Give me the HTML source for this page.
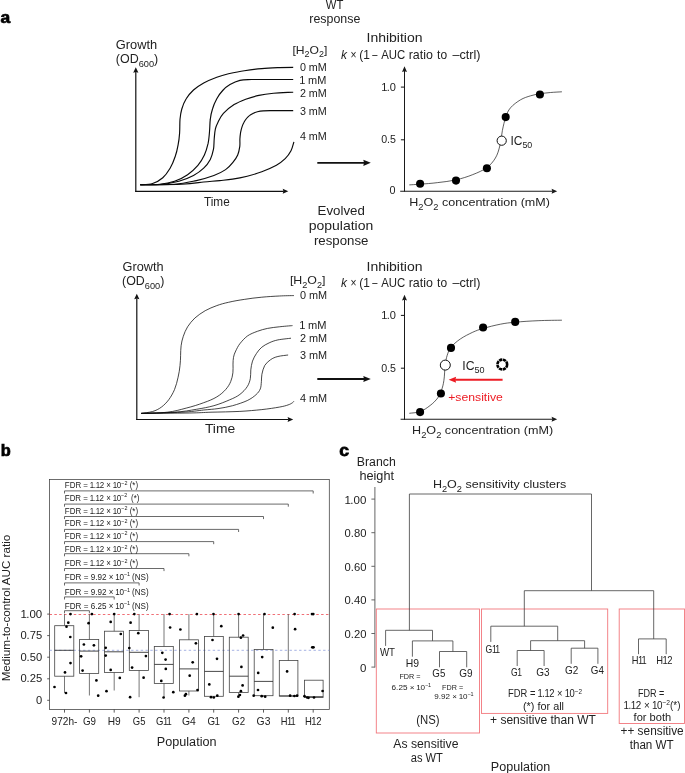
<!DOCTYPE html>
<html lang="en">
<head>
<meta charset="utf-8">
<title>Figure: H2O2 sensitivity of evolved populations</title>
<style>
html,body{margin:0;padding:0;background:#fff;}
body{width:685px;height:773px;overflow:hidden;}
svg{display:block;font-family:"Liberation Sans",Arial,Helvetica,sans-serif;fill:#222;}
svg line,svg path,svg rect,svg circle{shape-rendering:geometricPrecision;}
</style>
</head>
<body>
<svg width="685" height="773" viewBox="0 0 685 773">
<rect x="0" y="0" width="685" height="773" fill="#fff"/>
<text x="0.6" y="23.0" font-size="16.6" textLength="9.7" lengthAdjust="spacingAndGlyphs" fill="#000" font-weight="bold" stroke="#000" stroke-width="0.7">a</text>
<text x="334.6" y="9.0" font-size="12.4" text-anchor="middle" textLength="17.5" lengthAdjust="spacingAndGlyphs">WT</text>
<text x="334.8" y="23.0" font-size="12.4" text-anchor="middle" textLength="51.0" lengthAdjust="spacingAndGlyphs">response</text>
<text x="115.8" y="49.1" font-size="12.4" textLength="41.4" lengthAdjust="spacingAndGlyphs">Growth</text>
<text x="115.8" y="63.3" font-size="12.4" textLength="42.4" lengthAdjust="spacingAndGlyphs"><tspan>(OD</tspan><tspan dy="3.72" font-size="9.18">600</tspan><tspan dy="-3.72">)</tspan></text>
<line x1="135.8" y1="71.7" x2="135.8" y2="191.9" stroke="#111" stroke-width="1.2" />
<path d="M135.8,67.2 L138.4,72.7 L135.8,72.0 L133.2,72.7Z" fill="#111"/>
<line x1="135.2" y1="191.3" x2="283.7" y2="191.3" stroke="#111" stroke-width="1.2" />
<path d="M288.3,191.3 L282.7,188.8 L283.4,191.3 L282.7,193.8Z" fill="#111"/>
<text x="204.0" y="205.6" font-size="12" textLength="25.7" lengthAdjust="spacingAndGlyphs">Time</text>
<text x="292.4" y="53.6" font-size="11.5" textLength="34.9" lengthAdjust="spacingAndGlyphs"><tspan>[H</tspan><tspan dy="3.45" font-size="8.51">2</tspan><tspan dy="-3.45">O</tspan><tspan dy="3.45" font-size="8.51">2</tspan><tspan dy="-3.45">]</tspan></text>
<text x="299.9" y="71.0" font-size="10.1" textLength="26.9" lengthAdjust="spacingAndGlyphs">0 mM</text>
<text x="299.9" y="84.3" font-size="10.1" textLength="26.9" lengthAdjust="spacingAndGlyphs" dx="-0.51 -0.51 0 0">1 mM</text>
<text x="299.9" y="97.0" font-size="10.1" textLength="26.9" lengthAdjust="spacingAndGlyphs">2 mM</text>
<text x="299.9" y="114.7" font-size="10.1" textLength="26.9" lengthAdjust="spacingAndGlyphs">3 mM</text>
<text x="299.9" y="140.3" font-size="10.1" textLength="26.9" lengthAdjust="spacingAndGlyphs">4 mM</text>
<path d="M140.2,184.7C142.3,184.5 148.8,184.7 152.6,183.5C156.4,182.3 159.9,180.2 162.8,177.7C165.7,175.1 168.0,171.7 170.1,168.2C172.2,164.6 173.9,160.4 175.2,156.5C176.6,152.6 177.4,148.7 178.1,144.8C178.9,140.9 179.3,137.4 179.6,133.1C179.9,128.9 179.7,123.3 180.0,119.2C180.4,115.2 180.8,112.4 181.8,109.0C182.8,105.6 184.2,102.0 186.2,98.8C188.1,95.6 190.6,92.7 193.5,90.0C196.4,87.4 199.8,85.2 203.7,83.0C207.6,80.9 212.7,78.7 216.8,77.2C221.0,75.7 223.9,74.9 228.5,73.8C233.1,72.8 238.7,71.6 244.3,70.8C249.8,69.9 256.0,69.1 261.8,68.6C267.6,68.0 274.1,67.8 279.3,67.6C284.5,67.3 290.9,67.3 293.2,67.3" stroke="#0a0a0a" stroke-width="1.15" fill="none" />
<path d="M140.2,184.7C143.5,184.6 154.2,184.8 159.9,184.2C165.6,183.7 169.9,182.9 174.5,181.3C179.1,179.7 183.7,177.4 187.6,174.7C191.5,172.1 195.1,168.5 197.9,165.3C200.7,162.0 202.7,158.7 204.4,155.0C206.1,151.4 207.2,147.3 208.1,143.4C208.9,139.5 209.2,135.7 209.5,131.7C209.9,127.7 209.8,123.0 210.3,119.2C210.7,115.5 211.4,112.4 212.5,109.0C213.5,105.6 215.1,101.9 216.8,98.8C218.5,95.7 220.5,92.8 222.7,90.5C224.9,88.1 227.1,86.3 230.0,84.6C232.8,83.0 236.3,81.3 239.9,80.4C243.5,79.5 245.5,79.7 251.6,79.5C257.7,79.4 269.5,79.5 276.4,79.5C283.3,79.5 290.4,79.5 293.2,79.5" stroke="#0a0a0a" stroke-width="1.15" fill="none" />
<path d="M140.2,184.7C143.5,184.6 153.5,185.1 159.9,184.5C166.3,184.0 173.3,182.8 178.9,181.3C184.5,179.8 189.3,177.7 193.5,175.5C197.6,173.3 200.9,170.9 203.7,168.2C206.5,165.5 208.6,162.6 210.3,159.4C211.9,156.3 212.8,152.6 213.5,149.2C214.1,145.8 213.9,142.4 214.2,139.0C214.5,135.6 214.7,131.6 215.4,128.8C216.0,126.0 216.7,124.7 218.0,122.2C219.3,119.6 220.7,116.3 223.4,113.4C226.1,110.5 230.3,107.0 234.1,104.6C237.8,102.3 241.6,100.8 245.7,99.2C249.9,97.7 254.3,96.4 258.9,95.4C263.5,94.4 267.8,93.8 273.5,93.2C279.2,92.7 289.9,92.4 293.2,92.2" stroke="#0a0a0a" stroke-width="1.15" fill="none" />
<path d="M140.2,184.7C145.9,184.6 165.1,184.9 174.5,184.2C183.9,183.6 189.8,182.0 196.4,180.6C203.0,179.1 209.0,177.3 213.9,175.5C218.8,173.6 222.4,171.8 225.6,169.6C228.8,167.4 230.9,164.8 232.9,162.3C234.9,159.9 236.6,157.7 237.7,155.0C238.9,152.4 239.4,149.0 239.8,146.3C240.1,143.6 239.8,141.3 239.9,139.0C240.0,136.7 240.3,134.5 240.6,132.4C241.0,130.3 241.5,128.3 242.1,126.6C242.6,124.9 243.3,123.5 244.0,122.2C244.7,120.8 245.6,119.6 246.5,118.5C247.4,117.4 248.3,116.4 249.4,115.6C250.5,114.7 251.7,114.0 253.0,113.4C254.4,112.8 255.7,112.2 257.4,111.8C259.1,111.4 260.8,111.1 263.3,110.9C265.7,110.7 267.0,110.7 272.0,110.6C277.0,110.6 289.7,110.6 293.2,110.6" stroke="#0a0a0a" stroke-width="1.15" fill="none" />
<path d="M140.2,184.7C147.1,184.6 171.2,184.7 181.8,184.2C192.4,183.8 197.4,182.7 203.7,182.0C210.0,181.4 214.9,181.1 219.8,180.6C224.6,180.1 228.0,179.9 232.6,179.1C237.2,178.4 242.3,177.4 247.2,176.2C252.1,175.0 256.9,173.6 261.8,171.8C266.7,170.0 272.5,167.4 276.4,165.3C280.3,163.1 282.7,161.1 285.2,158.7C287.6,156.3 289.5,153.5 291.0,150.7C292.5,147.9 293.4,143.4 293.9,141.9" stroke="#0a0a0a" stroke-width="1.15" fill="none" />
<line x1="317.3" y1="162.8" x2="364.3" y2="162.8" stroke="#111" stroke-width="1.8" />
<path d="M370.8,162.8 L363.3,159.7 L364.0,162.8 L363.3,165.9Z" fill="#111"/>
<line x1="317.3" y1="379.0" x2="364.3" y2="379.0" stroke="#111" stroke-width="1.8" />
<path d="M370.8,379.0 L363.3,375.9 L364.0,379.0 L363.3,382.1Z" fill="#111"/>
<text x="366.5" y="42.2" font-size="13.4" textLength="56.0" lengthAdjust="spacingAndGlyphs">Inhibition</text>
<text y="58.8" font-size="11.9"><tspan x="341.1" font-style="italic">k</tspan> <tspan x="350.4" textLength="6.0" lengthAdjust="spacingAndGlyphs">×</tspan> <tspan x="359.2">(1</tspan> <tspan x="372.3" textLength="5.2" lengthAdjust="spacingAndGlyphs">–</tspan> <tspan x="381.2" textLength="24.0" lengthAdjust="spacingAndGlyphs">AUC</tspan> <tspan x="408.7" textLength="24.2" lengthAdjust="spacingAndGlyphs">ratio</tspan> <tspan x="437.1" textLength="10.0" lengthAdjust="spacingAndGlyphs">to</tspan> <tspan x="452.4" textLength="28.2" lengthAdjust="spacingAndGlyphs">–ctrl)</tspan></text>
<line x1="404.5" y1="70.9" x2="404.5" y2="191.6" stroke="#1a1a1a" stroke-width="1.05" />
<path d="M404.5,66.3 L407.0,71.9 L404.5,71.2 L402.0,71.9Z" fill="#1a1a1a"/>
<line x1="400.2" y1="191.2" x2="552.6" y2="191.2" stroke="#1a1a1a" stroke-width="1.05" />
<path d="M557.2,191.2 L551.6,188.7 L552.3,191.2 L551.6,193.7Z" fill="#1a1a1a"/>
<line x1="400.9" y1="87.1" x2="404.5" y2="87.1" stroke="#111" stroke-width="1" />
<text x="396.0" y="90.5" font-size="10" text-anchor="end" textLength="14.8" lengthAdjust="spacingAndGlyphs" dx="0 -0.5 0">1.0</text>
<line x1="400.9" y1="139.8" x2="404.5" y2="139.8" stroke="#111" stroke-width="1" />
<text x="396.0" y="143.2" font-size="10" text-anchor="end" textLength="14.8" lengthAdjust="spacingAndGlyphs">0.5</text>
<text x="395.6" y="194.4" font-size="10.4" text-anchor="end" textLength="6.0" lengthAdjust="spacingAndGlyphs">0</text>
<path d="M409.3,184.9C411.1,184.8 415.4,184.5 420.1,184.2C424.8,183.8 431.7,183.4 437.7,182.6C443.6,181.9 450.1,181.2 456.0,179.9C461.8,178.5 467.7,176.7 472.8,174.6C478.0,172.6 483.1,170.3 486.9,167.6C490.6,164.8 493.2,161.7 495.4,158.0C497.6,154.4 498.8,150.1 499.9,145.5C501.1,140.9 501.5,135.2 502.4,130.4C503.4,125.7 504.4,120.9 505.7,117.1C507.0,113.4 508.0,110.7 510.5,107.8C512.9,104.9 517.2,101.8 520.5,99.8C523.9,97.8 527.3,96.8 530.6,95.8C533.8,94.8 536.5,94.3 539.8,93.8C543.2,93.2 547.0,92.9 550.6,92.5C554.3,92.2 560.1,91.9 561.9,91.8" stroke="#1a1a1a" stroke-width="0.7" fill="none" />
<circle cx="420.1" cy="183.8" r="4.05" fill="#000" stroke="none" stroke-width="0" />
<circle cx="456.0" cy="180.6" r="4.05" fill="#000" stroke="none" stroke-width="0" />
<circle cx="486.9" cy="168.3" r="4.05" fill="#000" stroke="none" stroke-width="0" />
<circle cx="505.7" cy="117.1" r="4.05" fill="#000" stroke="none" stroke-width="0" />
<circle cx="539.9" cy="94.5" r="4.05" fill="#000" stroke="none" stroke-width="0" />
<circle cx="501.7" cy="140.7" r="4.6" fill="#fff" stroke="#111" stroke-width="1.0" />
<text x="510.5" y="144.7" font-size="12.2" textLength="21.8" lengthAdjust="spacingAndGlyphs"><tspan>IC</tspan><tspan dy="3.66" font-size="9.03">50</tspan></text>
<text x="409.3" y="206.4" font-size="11.6" textLength="140.6" lengthAdjust="spacingAndGlyphs"><tspan>H</tspan><tspan dy="3.48" font-size="8.58">2</tspan><tspan dy="-3.48">O</tspan><tspan dy="3.48" font-size="8.58">2</tspan><tspan dy="-3.48"> concentration (mM)</tspan></text>
<text x="341.2" y="214.8" font-size="13.4" text-anchor="middle" textLength="47.2" lengthAdjust="spacingAndGlyphs">Evolved</text>
<text x="341.0" y="229.7" font-size="13.4" text-anchor="middle" textLength="64.6" lengthAdjust="spacingAndGlyphs">population</text>
<text x="341.2" y="245.2" font-size="13.4" text-anchor="middle" textLength="54.5" lengthAdjust="spacingAndGlyphs">response</text>
<text x="122.6" y="270.9" font-size="12.4" textLength="40.9" lengthAdjust="spacingAndGlyphs">Growth</text>
<text x="122.1" y="285.3" font-size="12.4" textLength="42.2" lengthAdjust="spacingAndGlyphs"><tspan>(OD</tspan><tspan dy="3.72" font-size="9.18">600</tspan><tspan dy="-3.72">)</tspan></text>
<line x1="136.8" y1="298.2" x2="136.8" y2="420.1" stroke="#111" stroke-width="1.2" />
<path d="M136.8,293.7 L139.4,299.2 L136.8,298.5 L134.2,299.2Z" fill="#111"/>
<line x1="136.2" y1="419.5" x2="288.6" y2="419.5" stroke="#111" stroke-width="1.2" />
<path d="M293.2,419.5 L287.6,417.0 L288.3,419.5 L287.6,422.0Z" fill="#111"/>
<text x="204.9" y="433.0" font-size="13.5" textLength="30.3" lengthAdjust="spacingAndGlyphs">Time</text>
<text x="289.9" y="284.1" font-size="11.5" textLength="35.6" lengthAdjust="spacingAndGlyphs"><tspan>[H</tspan><tspan dy="3.45" font-size="8.51">2</tspan><tspan dy="-3.45">O</tspan><tspan dy="3.45" font-size="8.51">2</tspan><tspan dy="-3.45">]</tspan></text>
<text x="299.9" y="298.9" font-size="10.1" textLength="27.2" lengthAdjust="spacingAndGlyphs">0 mM</text>
<text x="299.9" y="328.9" font-size="10.1" textLength="27.2" lengthAdjust="spacingAndGlyphs" dx="-0.51 -0.51 0 0">1 mM</text>
<text x="299.9" y="342.2" font-size="10.1" textLength="27.2" lengthAdjust="spacingAndGlyphs">2 mM</text>
<text x="299.9" y="358.8" font-size="10.1" textLength="27.2" lengthAdjust="spacingAndGlyphs">3 mM</text>
<text x="299.9" y="401.9" font-size="10.1" textLength="27.2" lengthAdjust="spacingAndGlyphs">4 mM</text>
<path d="M141.2,413.4C143.1,413.1 149.2,412.5 152.6,411.5C156.0,410.5 158.7,409.1 161.4,407.1C164.0,405.2 166.5,402.7 168.7,399.8C170.8,396.9 172.9,393.4 174.5,389.6C176.1,385.8 177.2,381.2 178.1,377.2C179.1,373.2 179.6,369.2 180.0,365.5C180.5,361.9 180.5,358.6 180.6,355.3C180.8,352.0 180.6,348.9 181.1,345.8C181.5,342.6 182.2,339.4 183.3,336.3C184.4,333.1 185.7,329.8 187.6,326.8C189.6,323.8 192.0,320.7 194.9,318.0C197.9,315.4 201.5,312.8 205.2,310.7C208.8,308.7 212.9,307.0 216.8,305.6C220.7,304.2 223.9,303.3 228.5,302.3C233.1,301.2 238.7,300.2 244.3,299.4C249.8,298.5 256.0,297.7 261.8,297.2C267.6,296.6 274.0,296.3 279.3,296.0C284.7,295.7 291.5,295.6 293.9,295.6" stroke="#0a0a0a" stroke-width="0.75" fill="none" />
<path d="M141.2,413.4C145.5,413.2 159.7,413.1 167.2,412.2C174.7,411.4 180.1,409.7 186.2,408.1C192.3,406.6 198.6,404.6 203.7,402.7C208.8,400.9 213.2,399.1 216.8,396.9C220.5,394.7 223.3,392.2 225.6,389.6C227.9,387.1 229.5,384.4 230.7,381.6C231.9,378.8 232.5,375.7 232.9,372.8C233.3,369.9 232.9,366.6 233.0,364.1C233.1,361.5 233.1,359.5 233.5,357.3C233.9,355.1 234.6,353.2 235.7,351.0C236.8,348.8 237.9,346.3 239.8,343.8C241.8,341.3 244.5,338.1 247.4,336.0C250.3,333.9 254.0,332.6 257.4,331.3C260.8,330.0 263.9,329.2 267.6,328.4C271.3,327.6 275.2,327.3 279.3,326.8C283.5,326.3 290.3,325.8 292.5,325.6" stroke="#0a0a0a" stroke-width="0.75" fill="none" />
<path d="M141.2,413.4C146.8,413.2 165.3,412.9 174.5,412.2C183.7,411.6 189.8,410.4 196.4,409.3C203.0,408.2 208.4,407.2 213.9,405.7C219.5,404.1 225.3,401.7 229.7,399.8C234.0,398.0 237.0,396.6 239.9,394.4C242.8,392.2 245.5,389.3 247.2,386.7C248.9,384.1 249.7,381.5 250.3,378.7C250.9,375.9 250.5,372.8 250.8,369.9C251.2,367.0 251.5,363.9 252.5,361.1C253.4,358.4 255.0,355.7 256.5,353.4C258.1,351.0 259.7,349.0 261.8,347.2C263.9,345.5 266.4,344.1 269.1,342.9C271.8,341.6 274.2,340.7 277.9,339.9C281.5,339.2 288.8,338.5 291.0,338.2" stroke="#0a0a0a" stroke-width="0.75" fill="none" />
<path d="M141.2,413.4C148.0,413.2 171.4,412.8 181.8,412.2C192.2,411.7 197.7,410.7 203.7,410.0C209.7,409.4 213.2,409.3 218.0,408.6C222.8,407.9 227.7,407.0 232.6,405.7C237.5,404.3 243.3,402.4 247.2,400.6C251.1,398.7 253.8,396.7 256.0,394.7C258.1,392.8 259.4,391.1 260.3,388.9C261.2,386.7 261.1,384.0 261.4,381.6C261.6,379.1 261.4,377.0 261.9,374.3C262.5,371.6 263.3,368.0 264.7,365.5C266.2,363.1 268.4,361.2 270.6,359.7C272.7,358.2 274.9,357.2 277.9,356.5C280.8,355.7 286.4,355.3 288.1,355.0" stroke="#0a0a0a" stroke-width="0.75" fill="none" />
<path d="M141.2,413.4C149.2,413.3 177.5,413.2 189.1,413.0C200.7,412.8 202.5,412.5 211.0,412.2C219.5,412.0 231.4,411.8 239.9,411.4C248.4,410.9 255.2,410.3 261.8,409.6C268.4,408.9 274.9,407.9 279.3,407.1C283.7,406.3 285.9,405.7 288.1,404.9C290.3,404.2 291.5,403.4 292.5,402.7C293.4,402.1 293.7,401.5 293.9,401.3" stroke="#0a0a0a" stroke-width="0.75" fill="none" />
<text x="366.5" y="270.6" font-size="13.4" textLength="56.0" lengthAdjust="spacingAndGlyphs">Inhibition</text>
<text y="286.7" font-size="11.9"><tspan x="341.1" font-style="italic">k</tspan> <tspan x="350.4" textLength="6.0" lengthAdjust="spacingAndGlyphs">×</tspan> <tspan x="359.2">(1</tspan> <tspan x="372.3" textLength="5.2" lengthAdjust="spacingAndGlyphs">–</tspan> <tspan x="381.2" textLength="24.0" lengthAdjust="spacingAndGlyphs">AUC</tspan> <tspan x="408.7" textLength="24.2" lengthAdjust="spacingAndGlyphs">ratio</tspan> <tspan x="437.1" textLength="10.0" lengthAdjust="spacingAndGlyphs">to</tspan> <tspan x="452.4" textLength="28.2" lengthAdjust="spacingAndGlyphs">–ctrl)</tspan></text>
<line x1="404.5" y1="299.4" x2="404.5" y2="419.8" stroke="#1a1a1a" stroke-width="1.05" />
<path d="M404.5,294.8 L407.0,300.4 L404.5,299.7 L402.0,300.4Z" fill="#1a1a1a"/>
<line x1="400.6" y1="419.3" x2="552.6" y2="419.3" stroke="#1a1a1a" stroke-width="1.05" />
<path d="M557.2,419.3 L551.6,416.8 L552.3,419.3 L551.6,421.8Z" fill="#1a1a1a"/>
<line x1="400.9" y1="315.4" x2="404.5" y2="315.4" stroke="#111" stroke-width="1" />
<text x="396.0" y="318.8" font-size="10" text-anchor="end" textLength="14.8" lengthAdjust="spacingAndGlyphs" dx="0 -0.5 0">1.0</text>
<line x1="400.9" y1="368.2" x2="404.5" y2="368.2" stroke="#111" stroke-width="1" />
<text x="396.0" y="371.6" font-size="10" text-anchor="end" textLength="14.8" lengthAdjust="spacingAndGlyphs">0.5</text>
<path d="M409.3,413.3C411.1,413.0 416.6,412.9 420.1,411.6C423.6,410.3 427.2,407.8 430.1,405.5C433.1,403.3 435.8,400.5 437.7,398.0C439.5,395.5 440.4,393.4 441.4,390.5C442.5,387.5 443.3,384.6 443.9,380.4C444.6,376.2 444.6,369.5 445.2,365.4C445.7,361.2 446.2,358.3 447.2,355.3C448.2,352.3 448.8,350.0 451.0,347.3C453.1,344.6 456.6,341.5 460.3,339.0C463.9,336.5 469.0,334.0 472.8,332.2C476.6,330.5 478.5,329.8 483.1,328.5C487.7,327.1 495.1,325.2 500.4,324.2C505.8,323.1 509.0,322.8 515.2,322.2C521.5,321.6 530.3,321.0 538.1,320.7C545.9,320.3 558.0,320.3 561.9,320.2" stroke="#1a1a1a" stroke-width="0.7" fill="none" />
<circle cx="420.1" cy="412.1" r="4.05" fill="#000" stroke="none" stroke-width="0" />
<circle cx="440.9" cy="393.5" r="4.05" fill="#000" stroke="none" stroke-width="0" />
<circle cx="451.0" cy="347.9" r="4.05" fill="#000" stroke="none" stroke-width="0" />
<circle cx="483.1" cy="327.5" r="4.05" fill="#000" stroke="none" stroke-width="0" />
<circle cx="515.2" cy="321.9" r="4.05" fill="#000" stroke="none" stroke-width="0" />
<circle cx="445.3" cy="365.1" r="5.0" fill="#fff" stroke="#111" stroke-width="1.0" />
<text x="462.3" y="369.6" font-size="12.2" textLength="22.3" lengthAdjust="spacingAndGlyphs"><tspan>IC</tspan><tspan dy="3.66" font-size="9.03">50</tspan></text>
<circle cx="502.3" cy="364.5" r="4.85" fill="none" stroke="#000" stroke-width="2.6" stroke-dasharray="3.2 0.61"/>
<line x1="502.6" y1="379.7" x2="455.1" y2="379.7" stroke="#ed1c24" stroke-width="1.9" />
<path d="M448.6,379.7 L456.1,376.7 L455.4,379.7 L456.1,382.7Z" fill="#ed1c24"/>
<text x="448.2" y="400.5" font-size="11.5" textLength="54.7" lengthAdjust="spacingAndGlyphs" fill="#ed1c24">+sensitive</text>
<text x="412.1" y="434.4" font-size="11.6" textLength="141.1" lengthAdjust="spacingAndGlyphs"><tspan>H</tspan><tspan dy="3.48" font-size="8.58">2</tspan><tspan dy="-3.48">O</tspan><tspan dy="3.48" font-size="8.58">2</tspan><tspan dy="-3.48"> concentration (mM)</tspan></text>
<text x="0.7" y="455.6" font-size="16.6" textLength="10.0" lengthAdjust="spacingAndGlyphs" fill="#000" font-weight="bold" stroke="#000" stroke-width="0.7">b</text>
<rect x="49.5" y="479.4" width="279.8" height="230.1" fill="none" stroke="#3c3c3c" stroke-width="0.75"/>
<line x1="47.2" y1="614.1" x2="49.5" y2="614.1" stroke="#333" stroke-width="0.8" />
<text x="42.2" y="617.5" font-size="10.1" text-anchor="end" textLength="21.8" lengthAdjust="spacingAndGlyphs" dx="0 -0.51 0 0">1.00</text>
<line x1="47.2" y1="635.6" x2="49.5" y2="635.6" stroke="#333" stroke-width="0.8" />
<text x="42.2" y="639.0" font-size="10.1" text-anchor="end" textLength="21.8" lengthAdjust="spacingAndGlyphs">0.75</text>
<line x1="47.2" y1="657.2" x2="49.5" y2="657.2" stroke="#333" stroke-width="0.8" />
<text x="42.2" y="660.6" font-size="10.1" text-anchor="end" textLength="21.8" lengthAdjust="spacingAndGlyphs">0.50</text>
<line x1="47.2" y1="678.8" x2="49.5" y2="678.8" stroke="#333" stroke-width="0.8" />
<text x="42.2" y="682.1" font-size="10.1" text-anchor="end" textLength="21.8" lengthAdjust="spacingAndGlyphs">0.25</text>
<line x1="47.2" y1="700.3" x2="49.5" y2="700.3" stroke="#333" stroke-width="0.8" />
<text x="42.2" y="703.7" font-size="10.1" text-anchor="end" textLength="6.2" lengthAdjust="spacingAndGlyphs">0</text>
<text x="9.7" y="681.3" font-size="11" textLength="146.5" lengthAdjust="spacingAndGlyphs" transform="rotate(-90 9.7 681.3)">Medium-to-control AUC ratio</text>
<line x1="49.5" y1="614.5" x2="329.3" y2="614.5" stroke="#e8202c" stroke-width="0.65" stroke-dasharray="2.5 2.35"/>
<line x1="49.5" y1="650.3" x2="329.3" y2="650.3" stroke="#8fa0dc" stroke-width="0.8" stroke-dasharray="2.4 2.4"/>
<line x1="64.5" y1="709.5" x2="64.5" y2="712.6" stroke="#333" stroke-width="0.8" />
<text x="64.5" y="725.1" font-size="10.5" text-anchor="middle" textLength="25.8" lengthAdjust="spacingAndGlyphs">972h-</text>
<line x1="89.4" y1="709.5" x2="89.4" y2="712.6" stroke="#333" stroke-width="0.8" />
<text x="89.4" y="725.1" font-size="10.5" text-anchor="middle" textLength="13.0" lengthAdjust="spacingAndGlyphs">G9</text>
<line x1="114.2" y1="709.5" x2="114.2" y2="712.6" stroke="#333" stroke-width="0.8" />
<text x="114.2" y="725.1" font-size="10.5" text-anchor="middle" textLength="13.0" lengthAdjust="spacingAndGlyphs">H9</text>
<line x1="139.1" y1="709.5" x2="139.1" y2="712.6" stroke="#333" stroke-width="0.8" />
<text x="139.1" y="725.1" font-size="10.5" text-anchor="middle" textLength="12.6" lengthAdjust="spacingAndGlyphs">G5</text>
<line x1="164.0" y1="709.5" x2="164.0" y2="712.6" stroke="#333" stroke-width="0.8" />
<text x="164.0" y="725.1" font-size="10.5" text-anchor="middle" textLength="15.8" lengthAdjust="spacingAndGlyphs" dx="0 -0.53 -1.05">G11</text>
<line x1="188.9" y1="709.5" x2="188.9" y2="712.6" stroke="#333" stroke-width="0.8" />
<text x="188.9" y="725.1" font-size="10.5" text-anchor="middle" textLength="13.8" lengthAdjust="spacingAndGlyphs">G4</text>
<line x1="213.7" y1="709.5" x2="213.7" y2="712.6" stroke="#333" stroke-width="0.8" />
<text x="213.7" y="725.1" font-size="10.5" text-anchor="middle" textLength="12.5" lengthAdjust="spacingAndGlyphs" dx="0 -0.53">G1</text>
<line x1="238.6" y1="709.5" x2="238.6" y2="712.6" stroke="#333" stroke-width="0.8" />
<text x="238.6" y="725.1" font-size="10.5" text-anchor="middle" textLength="13.0" lengthAdjust="spacingAndGlyphs">G2</text>
<line x1="263.5" y1="709.5" x2="263.5" y2="712.6" stroke="#333" stroke-width="0.8" />
<text x="263.5" y="725.1" font-size="10.5" text-anchor="middle" textLength="13.8" lengthAdjust="spacingAndGlyphs">G3</text>
<line x1="288.3" y1="709.5" x2="288.3" y2="712.6" stroke="#333" stroke-width="0.8" />
<text x="288.3" y="725.1" font-size="10.5" text-anchor="middle" textLength="15.0" lengthAdjust="spacingAndGlyphs" dx="0 -0.53 -1.05">H11</text>
<line x1="313.2" y1="709.5" x2="313.2" y2="712.6" stroke="#333" stroke-width="0.8" />
<text x="313.2" y="725.1" font-size="10.5" text-anchor="middle" textLength="16.5" lengthAdjust="spacingAndGlyphs" dx="0 -0.53 -0.53">H12</text>
<text x="156.8" y="745.5" font-size="12" textLength="59.7" lengthAdjust="spacingAndGlyphs">Population</text>
<path d="M64.5,493.5 V490.9 H313.2 V493.5" stroke="#444" stroke-width="0.8" fill="none" />
<text x="64.8" y="487.7" font-size="8.8" textLength="73.3" lengthAdjust="spacingAndGlyphs" dx="0 0 0 0 0 0 -0.44 -0.44 -0.44 -0.44 0 0 0 -0.44 -0.44 0 0 0 0 0 0"><tspan>FDR = 1.12 × 10</tspan><tspan dy="-3.17" font-size="5.98">−2</tspan><tspan dy="3.17"> (*)</tspan></text>
<path d="M64.5,506.7 V504.1 H288.3 V506.7" stroke="#444" stroke-width="0.8" fill="none" />
<text x="64.8" y="500.6" font-size="8.8" textLength="74.6" lengthAdjust="spacingAndGlyphs" dx="0 0 0 0 0 0 -0.44 -0.44 -0.44 -0.44 0 0 0 -0.44 -0.44 0 0 0 0 0 0 0"><tspan>FDR = 1.12 × 10</tspan><tspan dy="-3.17" font-size="5.98">−2</tspan><tspan dy="3.17">  (*)</tspan></text>
<path d="M64.5,519.1 V516.5 H263.5 V519.1" stroke="#444" stroke-width="0.8" fill="none" />
<text x="64.8" y="513.6" font-size="8.8" textLength="73.3" lengthAdjust="spacingAndGlyphs" dx="0 0 0 0 0 0 -0.44 -0.44 -0.44 -0.44 0 0 0 -0.44 -0.44 0 0 0 0 0 0"><tspan>FDR = 1.12 × 10</tspan><tspan dy="-3.17" font-size="5.98">−2</tspan><tspan dy="3.17"> (*)</tspan></text>
<path d="M64.5,532.0 V529.4 H238.6 V532.0" stroke="#444" stroke-width="0.8" fill="none" />
<text x="64.8" y="525.8" font-size="8.8" textLength="73.3" lengthAdjust="spacingAndGlyphs" dx="0 0 0 0 0 0 -0.44 -0.44 -0.44 -0.44 0 0 0 -0.44 -0.44 0 0 0 0 0 0"><tspan>FDR = 1.12 × 10</tspan><tspan dy="-3.17" font-size="5.98">−2</tspan><tspan dy="3.17"> (*)</tspan></text>
<path d="M64.5,544.2 V541.6 H213.7 V544.2" stroke="#444" stroke-width="0.8" fill="none" />
<text x="64.8" y="538.6" font-size="8.8" textLength="73.3" lengthAdjust="spacingAndGlyphs" dx="0 0 0 0 0 0 -0.44 -0.44 -0.44 -0.44 0 0 0 -0.44 -0.44 0 0 0 0 0 0"><tspan>FDR = 1.12 × 10</tspan><tspan dy="-3.17" font-size="5.98">−2</tspan><tspan dy="3.17"> (*)</tspan></text>
<path d="M64.5,556.3 V553.7 H188.9 V556.3" stroke="#444" stroke-width="0.8" fill="none" />
<text x="64.8" y="551.8" font-size="8.8" textLength="73.3" lengthAdjust="spacingAndGlyphs" dx="0 0 0 0 0 0 -0.44 -0.44 -0.44 -0.44 0 0 0 -0.44 -0.44 0 0 0 0 0 0"><tspan>FDR = 1.12 × 10</tspan><tspan dy="-3.17" font-size="5.98">−2</tspan><tspan dy="3.17"> (*)</tspan></text>
<path d="M64.5,571.1 V568.5 H164.0 V571.1" stroke="#444" stroke-width="0.8" fill="none" />
<text x="64.8" y="565.9" font-size="8.8" textLength="73.3" lengthAdjust="spacingAndGlyphs" dx="0 0 0 0 0 0 -0.44 -0.44 -0.44 -0.44 0 0 0 -0.44 -0.44 0 0 0 0 0 0"><tspan>FDR = 1.12 × 10</tspan><tspan dy="-3.17" font-size="5.98">−2</tspan><tspan dy="3.17"> (*)</tspan></text>
<path d="M64.5,585.5 V582.9 H139.1 V585.5" stroke="#444" stroke-width="0.8" fill="none" />
<text x="64.8" y="579.6" font-size="8.8" textLength="83.8" lengthAdjust="spacingAndGlyphs" dx="0 0 0 0 0 0 0 0 0 0 0 0 0 -0.44 -0.44 0 -0.3 -0.3 0 0 0 0"><tspan>FDR = 9.92 × 10</tspan><tspan dy="-3.17" font-size="5.98">−1</tspan><tspan dy="3.17"> (NS)</tspan></text>
<path d="M64.5,599.5 V596.9 H114.2 V599.5" stroke="#444" stroke-width="0.8" fill="none" />
<text x="64.8" y="594.8" font-size="8.8" textLength="83.8" lengthAdjust="spacingAndGlyphs" dx="0 0 0 0 0 0 0 0 0 0 0 0 0 -0.44 -0.44 0 -0.3 -0.3 0 0 0 0"><tspan>FDR = 9.92 × 10</tspan><tspan dy="-3.17" font-size="5.98">−1</tspan><tspan dy="3.17"> (NS)</tspan></text>
<path d="M64.5,613.3 V610.7 H89.4 V613.3" stroke="#444" stroke-width="0.8" fill="none" />
<text x="64.8" y="608.5" font-size="8.8" textLength="83.8" lengthAdjust="spacingAndGlyphs" dx="0 0 0 0 0 0 0 0 0 0 0 0 0 -0.44 -0.44 0 -0.3 -0.3 0 0 0 0"><tspan>FDR = 6.25 × 10</tspan><tspan dy="-3.17" font-size="5.98">−1</tspan><tspan dy="3.17"> (NS)</tspan></text>
<line x1="64.5" y1="614.1" x2="64.5" y2="625.7" stroke="#555" stroke-width="0.8" />
<line x1="64.5" y1="676.2" x2="64.5" y2="693.0" stroke="#555" stroke-width="0.8" />
<rect x="54.7" y="625.7" width="19.1" height="50.5" fill="#fff" fill-opacity="0.0" stroke="#444" stroke-width="0.8"/>
<line x1="54.7" y1="650.3" x2="73.8" y2="650.3" stroke="#333" stroke-width="0.9" />
<line x1="89.4" y1="614.1" x2="89.4" y2="639.5" stroke="#555" stroke-width="0.8" />
<line x1="89.4" y1="673.4" x2="89.4" y2="695.5" stroke="#555" stroke-width="0.8" />
<rect x="79.6" y="639.5" width="19.1" height="33.9" fill="#fff" fill-opacity="0.0" stroke="#444" stroke-width="0.8"/>
<line x1="79.6" y1="651.1" x2="98.7" y2="651.1" stroke="#333" stroke-width="0.9" />
<line x1="114.2" y1="614.1" x2="114.2" y2="631.2" stroke="#555" stroke-width="0.8" />
<line x1="114.2" y1="672.4" x2="114.2" y2="690.5" stroke="#555" stroke-width="0.8" />
<rect x="104.4" y="631.2" width="19.1" height="41.2" fill="#fff" fill-opacity="0.0" stroke="#444" stroke-width="0.8"/>
<line x1="104.4" y1="651.8" x2="123.5" y2="651.8" stroke="#333" stroke-width="0.9" />
<line x1="139.1" y1="614.1" x2="139.1" y2="630.5" stroke="#555" stroke-width="0.8" />
<line x1="139.1" y1="670.4" x2="139.1" y2="697.2" stroke="#555" stroke-width="0.8" />
<rect x="129.3" y="630.5" width="19.1" height="39.9" fill="#fff" fill-opacity="0.0" stroke="#444" stroke-width="0.8"/>
<line x1="129.3" y1="652.3" x2="148.4" y2="652.3" stroke="#333" stroke-width="0.9" />
<line x1="164.0" y1="614.1" x2="164.0" y2="646.5" stroke="#555" stroke-width="0.8" />
<line x1="164.0" y1="683.4" x2="164.0" y2="697.5" stroke="#555" stroke-width="0.8" />
<rect x="154.3" y="646.5" width="19.0" height="36.9" fill="#fff" fill-opacity="0.0" stroke="#444" stroke-width="0.8"/>
<line x1="154.3" y1="664.4" x2="173.3" y2="664.4" stroke="#333" stroke-width="0.9" />
<line x1="188.9" y1="614.1" x2="188.9" y2="639.8" stroke="#555" stroke-width="0.8" />
<line x1="188.9" y1="691.0" x2="188.9" y2="695.5" stroke="#555" stroke-width="0.8" />
<rect x="179.4" y="639.8" width="19.1" height="51.2" fill="#fff" fill-opacity="0.0" stroke="#444" stroke-width="0.8"/>
<line x1="179.4" y1="668.9" x2="198.5" y2="668.9" stroke="#333" stroke-width="0.9" />
<line x1="213.7" y1="614.1" x2="213.7" y2="636.5" stroke="#555" stroke-width="0.8" />
<line x1="213.7" y1="696.2" x2="213.7" y2="697.5" stroke="#555" stroke-width="0.8" />
<rect x="204.5" y="636.5" width="18.8" height="59.8" fill="#fff" fill-opacity="0.0" stroke="#444" stroke-width="0.8"/>
<line x1="204.5" y1="671.4" x2="223.3" y2="671.4" stroke="#333" stroke-width="0.9" />
<line x1="238.6" y1="614.1" x2="238.6" y2="637.2" stroke="#555" stroke-width="0.8" />
<line x1="238.6" y1="692.5" x2="238.6" y2="696.7" stroke="#555" stroke-width="0.8" />
<rect x="229.3" y="637.2" width="18.9" height="55.2" fill="#fff" fill-opacity="0.0" stroke="#444" stroke-width="0.8"/>
<line x1="229.3" y1="676.2" x2="248.2" y2="676.2" stroke="#333" stroke-width="0.9" />
<line x1="263.5" y1="614.1" x2="263.5" y2="649.5" stroke="#555" stroke-width="0.8" />
<line x1="263.5" y1="695.7" x2="263.5" y2="696.7" stroke="#555" stroke-width="0.8" />
<rect x="254.2" y="649.5" width="18.8" height="46.2" fill="#fff" fill-opacity="0.0" stroke="#444" stroke-width="0.8"/>
<line x1="254.2" y1="681.4" x2="273.0" y2="681.4" stroke="#333" stroke-width="0.9" />
<line x1="288.3" y1="614.1" x2="288.3" y2="660.6" stroke="#555" stroke-width="0.8" />
<line x1="288.3" y1="696.0" x2="288.3" y2="696.0" stroke="#555" stroke-width="0.8" />
<rect x="279.3" y="660.6" width="18.6" height="35.4" fill="#fff" fill-opacity="0.0" stroke="#444" stroke-width="0.8"/>
<line x1="279.3" y1="696.0" x2="297.9" y2="696.0" stroke="#333" stroke-width="0.9" />
<line x1="313.2" y1="680.2" x2="313.2" y2="680.2" stroke="#555" stroke-width="0.8" />
<line x1="313.2" y1="697.5" x2="313.2" y2="697.5" stroke="#555" stroke-width="0.8" />
<rect x="304.5" y="680.2" width="18.6" height="17.3" fill="#fff" fill-opacity="0.0" stroke="#444" stroke-width="0.8"/>
<line x1="304.5" y1="696.7" x2="323.1" y2="696.7" stroke="#333" stroke-width="0.9" />
<circle cx="70.5" cy="614.1" r="1.35" fill="#000" stroke="none" stroke-width="0" />
<circle cx="68.3" cy="622.7" r="1.35" fill="#000" stroke="none" stroke-width="0" />
<circle cx="66.5" cy="626.7" r="1.35" fill="#000" stroke="none" stroke-width="0" />
<circle cx="70.3" cy="637.0" r="1.35" fill="#000" stroke="none" stroke-width="0" />
<circle cx="70.5" cy="663.1" r="1.35" fill="#000" stroke="none" stroke-width="0" />
<circle cx="65.0" cy="672.4" r="1.35" fill="#000" stroke="none" stroke-width="0" />
<circle cx="54.5" cy="687.0" r="1.35" fill="#000" stroke="none" stroke-width="0" />
<circle cx="66.0" cy="693.0" r="1.35" fill="#000" stroke="none" stroke-width="0" />
<circle cx="91.9" cy="614.1" r="1.35" fill="#000" stroke="none" stroke-width="0" />
<circle cx="88.6" cy="623.2" r="1.35" fill="#000" stroke="none" stroke-width="0" />
<circle cx="83.9" cy="644.5" r="1.35" fill="#000" stroke="none" stroke-width="0" />
<circle cx="93.9" cy="645.3" r="1.35" fill="#000" stroke="none" stroke-width="0" />
<circle cx="81.1" cy="656.3" r="1.35" fill="#000" stroke="none" stroke-width="0" />
<circle cx="82.6" cy="670.6" r="1.35" fill="#000" stroke="none" stroke-width="0" />
<circle cx="96.4" cy="680.4" r="1.35" fill="#000" stroke="none" stroke-width="0" />
<circle cx="98.2" cy="695.7" r="1.35" fill="#000" stroke="none" stroke-width="0" />
<circle cx="114.2" cy="614.1" r="1.35" fill="#000" stroke="none" stroke-width="0" />
<circle cx="110.7" cy="621.9" r="1.35" fill="#000" stroke="none" stroke-width="0" />
<circle cx="120.8" cy="634.0" r="1.35" fill="#000" stroke="none" stroke-width="0" />
<circle cx="105.7" cy="647.8" r="1.35" fill="#000" stroke="none" stroke-width="0" />
<circle cx="105.7" cy="655.6" r="1.35" fill="#000" stroke="none" stroke-width="0" />
<circle cx="110.7" cy="669.9" r="1.35" fill="#000" stroke="none" stroke-width="0" />
<circle cx="119.8" cy="677.9" r="1.35" fill="#000" stroke="none" stroke-width="0" />
<circle cx="106.5" cy="691.2" r="1.35" fill="#000" stroke="none" stroke-width="0" />
<circle cx="134.3" cy="614.1" r="1.35" fill="#000" stroke="none" stroke-width="0" />
<circle cx="130.6" cy="622.7" r="1.35" fill="#000" stroke="none" stroke-width="0" />
<circle cx="138.3" cy="633.2" r="1.35" fill="#000" stroke="none" stroke-width="0" />
<circle cx="129.3" cy="648.0" r="1.35" fill="#000" stroke="none" stroke-width="0" />
<circle cx="145.9" cy="656.1" r="1.35" fill="#000" stroke="none" stroke-width="0" />
<circle cx="132.1" cy="667.6" r="1.35" fill="#000" stroke="none" stroke-width="0" />
<circle cx="143.6" cy="677.7" r="1.35" fill="#000" stroke="none" stroke-width="0" />
<circle cx="130.1" cy="697.2" r="1.35" fill="#000" stroke="none" stroke-width="0" />
<circle cx="169.6" cy="614.1" r="1.35" fill="#000" stroke="none" stroke-width="0" />
<circle cx="170.1" cy="627.5" r="1.35" fill="#000" stroke="none" stroke-width="0" />
<circle cx="162.3" cy="652.8" r="1.35" fill="#000" stroke="none" stroke-width="0" />
<circle cx="165.6" cy="659.6" r="1.35" fill="#000" stroke="none" stroke-width="0" />
<circle cx="165.8" cy="668.9" r="1.35" fill="#000" stroke="none" stroke-width="0" />
<circle cx="161.3" cy="680.9" r="1.35" fill="#000" stroke="none" stroke-width="0" />
<circle cx="173.3" cy="692.2" r="1.35" fill="#000" stroke="none" stroke-width="0" />
<circle cx="163.6" cy="697.5" r="1.35" fill="#000" stroke="none" stroke-width="0" />
<circle cx="196.9" cy="614.1" r="1.35" fill="#000" stroke="none" stroke-width="0" />
<circle cx="180.4" cy="629.5" r="1.35" fill="#000" stroke="none" stroke-width="0" />
<circle cx="195.9" cy="643.3" r="1.35" fill="#000" stroke="none" stroke-width="0" />
<circle cx="192.7" cy="662.3" r="1.35" fill="#000" stroke="none" stroke-width="0" />
<circle cx="189.7" cy="675.7" r="1.35" fill="#000" stroke="none" stroke-width="0" />
<circle cx="197.5" cy="690.0" r="1.35" fill="#000" stroke="none" stroke-width="0" />
<circle cx="185.9" cy="694.2" r="1.35" fill="#000" stroke="none" stroke-width="0" />
<circle cx="184.9" cy="695.7" r="1.35" fill="#000" stroke="none" stroke-width="0" />
<circle cx="213.5" cy="614.1" r="1.35" fill="#000" stroke="none" stroke-width="0" />
<circle cx="221.3" cy="626.2" r="1.35" fill="#000" stroke="none" stroke-width="0" />
<circle cx="212.5" cy="640.0" r="1.35" fill="#000" stroke="none" stroke-width="0" />
<circle cx="217.0" cy="658.8" r="1.35" fill="#000" stroke="none" stroke-width="0" />
<circle cx="209.3" cy="684.4" r="1.35" fill="#000" stroke="none" stroke-width="0" />
<circle cx="217.3" cy="695.7" r="1.35" fill="#000" stroke="none" stroke-width="0" />
<circle cx="211.0" cy="697.2" r="1.35" fill="#000" stroke="none" stroke-width="0" />
<circle cx="213.8" cy="697.5" r="1.35" fill="#000" stroke="none" stroke-width="0" />
<circle cx="238.6" cy="614.1" r="1.35" fill="#000" stroke="none" stroke-width="0" />
<circle cx="243.1" cy="635.5" r="1.35" fill="#000" stroke="none" stroke-width="0" />
<circle cx="240.9" cy="637.7" r="1.35" fill="#000" stroke="none" stroke-width="0" />
<circle cx="241.4" cy="666.9" r="1.35" fill="#000" stroke="none" stroke-width="0" />
<circle cx="242.6" cy="685.4" r="1.35" fill="#000" stroke="none" stroke-width="0" />
<circle cx="240.9" cy="691.2" r="1.35" fill="#000" stroke="none" stroke-width="0" />
<circle cx="239.9" cy="695.0" r="1.35" fill="#000" stroke="none" stroke-width="0" />
<circle cx="238.4" cy="696.7" r="1.35" fill="#000" stroke="none" stroke-width="0" />
<circle cx="264.5" cy="614.1" r="1.35" fill="#000" stroke="none" stroke-width="0" />
<circle cx="272.8" cy="627.7" r="1.35" fill="#000" stroke="none" stroke-width="0" />
<circle cx="262.2" cy="657.1" r="1.35" fill="#000" stroke="none" stroke-width="0" />
<circle cx="258.2" cy="672.9" r="1.35" fill="#000" stroke="none" stroke-width="0" />
<circle cx="258.0" cy="690.0" r="1.35" fill="#000" stroke="none" stroke-width="0" />
<circle cx="253.7" cy="695.7" r="1.35" fill="#000" stroke="none" stroke-width="0" />
<circle cx="261.7" cy="696.2" r="1.35" fill="#000" stroke="none" stroke-width="0" />
<circle cx="265.2" cy="696.7" r="1.35" fill="#000" stroke="none" stroke-width="0" />
<circle cx="294.6" cy="614.1" r="1.35" fill="#000" stroke="none" stroke-width="0" />
<circle cx="295.1" cy="629.2" r="1.35" fill="#000" stroke="none" stroke-width="0" />
<circle cx="287.1" cy="671.4" r="1.35" fill="#000" stroke="none" stroke-width="0" />
<circle cx="290.1" cy="695.7" r="1.35" fill="#000" stroke="none" stroke-width="0" />
<circle cx="294.4" cy="696.0" r="1.35" fill="#000" stroke="none" stroke-width="0" />
<circle cx="297.1" cy="695.7" r="1.35" fill="#000" stroke="none" stroke-width="0" />
<circle cx="312.0" cy="614.1" r="1.35" fill="#000" stroke="none" stroke-width="0" />
<circle cx="313.3" cy="614.1" r="1.35" fill="#000" stroke="none" stroke-width="0" />
<circle cx="312.3" cy="647.3" r="1.35" fill="#000" stroke="none" stroke-width="0" />
<circle cx="313.5" cy="647.3" r="1.35" fill="#000" stroke="none" stroke-width="0" />
<circle cx="322.6" cy="691.0" r="1.35" fill="#000" stroke="none" stroke-width="0" />
<circle cx="304.5" cy="696.2" r="1.35" fill="#000" stroke="none" stroke-width="0" />
<circle cx="307.2" cy="697.5" r="1.35" fill="#000" stroke="none" stroke-width="0" />
<circle cx="308.5" cy="697.8" r="1.35" fill="#000" stroke="none" stroke-width="0" />
<circle cx="314.0" cy="697.5" r="1.35" fill="#000" stroke="none" stroke-width="0" />
<text x="339.2" y="455.5" font-size="17" textLength="9.8" lengthAdjust="spacingAndGlyphs" fill="#000" font-weight="bold" stroke="#000" stroke-width="0.8">c</text>
<text x="376.3" y="465.8" font-size="12" text-anchor="middle" textLength="38.9" lengthAdjust="spacingAndGlyphs">Branch</text>
<text x="376.7" y="480.2" font-size="12" text-anchor="middle" textLength="34.6" lengthAdjust="spacingAndGlyphs">height</text>
<text x="432.9" y="487.7" font-size="11" textLength="133.5" lengthAdjust="spacingAndGlyphs"><tspan>H</tspan><tspan dy="4.40" font-size="8.14">2</tspan><tspan dy="-4.40">O</tspan><tspan dy="4.40" font-size="8.14">2</tspan><tspan dy="-4.40"> sensitivity clusters</tspan></text>
<line x1="374.9" y1="487.0" x2="374.9" y2="667.5" stroke="#555" stroke-width="0.9" />
<line x1="371.4" y1="499.1" x2="374.9" y2="499.1" stroke="#555" stroke-width="0.9" />
<text x="366.4" y="503.5" font-size="10.5" text-anchor="end" textLength="21.9" lengthAdjust="spacingAndGlyphs" dx="0 -0.53 0 0">1.00</text>
<line x1="371.4" y1="532.7" x2="374.9" y2="532.7" stroke="#555" stroke-width="0.9" />
<text x="366.4" y="537.1" font-size="10.5" text-anchor="end" textLength="21.9" lengthAdjust="spacingAndGlyphs">0.80</text>
<line x1="371.4" y1="566.3" x2="374.9" y2="566.3" stroke="#555" stroke-width="0.9" />
<text x="366.4" y="570.7" font-size="10.5" text-anchor="end" textLength="21.9" lengthAdjust="spacingAndGlyphs">0.60</text>
<line x1="371.4" y1="599.9" x2="374.9" y2="599.9" stroke="#555" stroke-width="0.9" />
<text x="366.4" y="604.3" font-size="10.5" text-anchor="end" textLength="21.9" lengthAdjust="spacingAndGlyphs">0.40</text>
<line x1="371.4" y1="633.5" x2="374.9" y2="633.5" stroke="#555" stroke-width="0.9" />
<text x="366.4" y="637.9" font-size="10.5" text-anchor="end" textLength="21.9" lengthAdjust="spacingAndGlyphs">0.20</text>
<line x1="371.4" y1="667.1" x2="374.9" y2="667.1" stroke="#555" stroke-width="0.9" />
<text x="366.4" y="671.5" font-size="10.5" text-anchor="end" textLength="6.4" lengthAdjust="spacingAndGlyphs">0</text>
<rect x="376.3" y="609.0" width="103.2" height="124.0" fill="none" stroke="#f2777c" stroke-width="0.9"/>
<rect x="481.5" y="609.0" width="126.2" height="104.4" fill="none" stroke="#f2777c" stroke-width="0.9"/>
<rect x="619.2" y="609.0" width="65.3" height="114.5" fill="none" stroke="#f2777c" stroke-width="0.9"/>
<path d="M409.4,630.3 V494.0 H591.5 V590.7" stroke="#404040" stroke-width="0.8" fill="none" />
<path d="M524.3,626.2 V590.7 H653.7 V638.9" stroke="#404040" stroke-width="0.8" fill="none" />
<path d="M385.6,645.9 V630.3 H432.5 V640.9" stroke="#404040" stroke-width="0.8" fill="none" />
<path d="M412.4,656.7 V640.9 H452.9 V651.5" stroke="#404040" stroke-width="0.8" fill="none" />
<path d="M439.5,667.3 V651.5 H466.7 V667.3" stroke="#404040" stroke-width="0.8" fill="none" />
<path d="M490.8,641.9 V626.2 H557.7 V640.7" stroke="#404040" stroke-width="0.8" fill="none" />
<path d="M530.6,650.5 V640.7 H584.6 V648.2" stroke="#404040" stroke-width="0.8" fill="none" />
<path d="M517.2,666.0 V650.5 H544.1 V666.0" stroke="#404040" stroke-width="0.8" fill="none" />
<path d="M571.2,663.8 V648.2 H597.9 V663.8" stroke="#404040" stroke-width="0.8" fill="none" />
<path d="M638.5,654.2 V638.9 H666.2 V654.2" stroke="#404040" stroke-width="0.8" fill="none" />
<text x="387.5" y="655.7" font-size="10.2" text-anchor="middle" textLength="15.1" lengthAdjust="spacingAndGlyphs">WT</text>
<text x="412.5" y="666.5" font-size="10.2" text-anchor="middle" textLength="13.3" lengthAdjust="spacingAndGlyphs">H9</text>
<text x="438.8" y="676.6" font-size="10.2" text-anchor="middle" textLength="13.0" lengthAdjust="spacingAndGlyphs">G5</text>
<text x="465.8" y="676.6" font-size="10.2" text-anchor="middle" textLength="13.3" lengthAdjust="spacingAndGlyphs">G9</text>
<text x="492.8" y="652.7" font-size="10.2" text-anchor="middle" textLength="14.5" lengthAdjust="spacingAndGlyphs" dx="0 -0.51 -1.02">G11</text>
<text x="516.6" y="675.8" font-size="10.2" text-anchor="middle" textLength="11.0" lengthAdjust="spacingAndGlyphs" dx="0 -0.51">G1</text>
<text x="542.8" y="675.8" font-size="10.2" text-anchor="middle" textLength="13.3" lengthAdjust="spacingAndGlyphs">G3</text>
<text x="571.7" y="674.1" font-size="10.2" text-anchor="middle" textLength="13.3" lengthAdjust="spacingAndGlyphs">G2</text>
<text x="597.4" y="674.1" font-size="10.2" text-anchor="middle" textLength="13.1" lengthAdjust="spacingAndGlyphs">G4</text>
<text x="639.3" y="664.4" font-size="10.2" text-anchor="middle" textLength="15.0" lengthAdjust="spacingAndGlyphs" dx="0 -0.51 -1.02">H11</text>
<text x="664.3" y="664.4" font-size="10.2" text-anchor="middle" textLength="16.3" lengthAdjust="spacingAndGlyphs" dx="0 -0.51 -0.51">H12</text>
<text x="410.0" y="679.1" font-size="7.8" text-anchor="middle" textLength="21.1" lengthAdjust="spacingAndGlyphs">FDR =</text>
<text x="411.3" y="689.6" font-size="7.8" text-anchor="middle" textLength="39.4" lengthAdjust="spacingAndGlyphs" dx="0 0 0 0 0 0 0 -0.39 -0.39 0 -0.27"><tspan>6.25 × 10</tspan><tspan dy="-2.81" font-size="5.30">−1</tspan></text>
<text x="452.6" y="689.6" font-size="7.8" text-anchor="middle" textLength="21.0" lengthAdjust="spacingAndGlyphs">FDR =</text>
<text x="453.9" y="699.2" font-size="7.8" text-anchor="middle" textLength="39.1" lengthAdjust="spacingAndGlyphs" dx="0 0 0 0 0 0 0 -0.39 -0.39 0 -0.27"><tspan>9.92 × 10</tspan><tspan dy="-2.81" font-size="5.30">−1</tspan></text>
<text x="427.9" y="723.8" font-size="12" text-anchor="middle" textLength="23.3" lengthAdjust="spacingAndGlyphs">(NS)</text>
<text x="425.9" y="747.6" font-size="12" text-anchor="middle" textLength="65.1" lengthAdjust="spacingAndGlyphs">As sensitive</text>
<text x="426.8" y="761.6" font-size="12" text-anchor="middle" textLength="32.1" lengthAdjust="spacingAndGlyphs">as WT</text>
<text x="545.0" y="697.2" font-size="10" text-anchor="middle" textLength="73.9" lengthAdjust="spacingAndGlyphs" dx="0 0 0 0 0 0 -0.5 -0.5 -0.5 -0.5 0 0 0 -0.5 -0.5 0 0"><tspan>FDR = 1.12 × 10</tspan><tspan dy="-3.60" font-size="6.80">−2</tspan></text>
<text x="543.5" y="709.7" font-size="10" text-anchor="middle" textLength="41.0" lengthAdjust="spacingAndGlyphs">(*) for all</text>
<text x="543.0" y="723.5" font-size="12" text-anchor="middle" textLength="105.9" lengthAdjust="spacingAndGlyphs">+ sensitive than WT</text>
<text x="651.2" y="696.7" font-size="10" text-anchor="middle" textLength="26.4" lengthAdjust="spacingAndGlyphs">FDR =</text>
<text x="652.0" y="708.5" font-size="10" text-anchor="middle" textLength="57.0" lengthAdjust="spacingAndGlyphs" dx="0 -0.5 -0.5 -0.5 0 0 0 -0.5 -0.5 0 0 0 0 0"><tspan>1.12 × 10</tspan><tspan dy="-3.60" font-size="6.80">−2</tspan><tspan dy="3.60">(*)</tspan></text>
<text x="652.4" y="721.0" font-size="10" text-anchor="middle" textLength="37.7" lengthAdjust="spacingAndGlyphs">for both</text>
<text x="652.1" y="734.8" font-size="12" text-anchor="middle" textLength="63.2" lengthAdjust="spacingAndGlyphs">++ sensitive</text>
<text x="651.7" y="749.0" font-size="12" text-anchor="middle" textLength="44.0" lengthAdjust="spacingAndGlyphs">than WT</text>
<text x="520.5" y="770.5" font-size="12" text-anchor="middle" textLength="59.4" lengthAdjust="spacingAndGlyphs">Population</text>
</svg>
</body>
</html>
